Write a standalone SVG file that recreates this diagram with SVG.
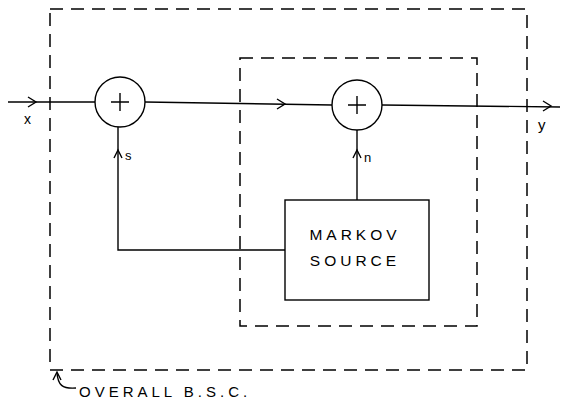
<svg xmlns="http://www.w3.org/2000/svg" width="568" height="406" viewBox="0 0 568 406">
<defs>
<style>
.ln{fill:none;stroke:#000;stroke-width:1.4}
.dash{fill:none;stroke:#000;stroke-width:1.5;stroke-dasharray:13,8}
.t{font-family:"Liberation Sans",Arial,sans-serif;fill:#000}
.ah{fill:none;stroke:#000;stroke-width:1.4}
</style>
</defs>
<rect width="568" height="406" fill="#fff"/>
<g id="overall-bsc">
<rect class="dash" x="50" y="9" width="477" height="361"/>
</g>
<g id="channel-box">
<rect class="dash" x="240" y="58" width="237" height="268"/>
</g>
<g id="adder1">
<circle class="ln" cx="120" cy="102" r="25"/>
<path class="ln" d="M111,102h18M120,93v18"/>
</g>
<g id="adder2">
<circle class="ln" cx="357" cy="105" r="25"/>
<path class="ln" d="M348,105h18M357,96v18"/>
</g>
<g id="markov-source">
<rect class="ln" x="285" y="200" width="144" height="100"/>
<text class="t" x="355" y="240" font-size="15.5" text-anchor="middle" letter-spacing="4">MARKOV</text>
<text class="t" x="355" y="266" font-size="15.5" text-anchor="middle" letter-spacing="4">SOURCE</text>
</g>
<g id="connectors">
<path class="ln" d="M8,102H95"/>
<path class="ah" d="M28,97l8,5l-8,5"/>
<path class="ln" d="M145,102L332,105"/>
<path class="ah" d="M277,99l8,5l-8,5"/>
<path class="ln" d="M382,105L560,107"/>
<path class="ah" d="M543,101l8,5l-8,5"/>
<path class="ln" d="M285,250H118V127"/>
<path class="ah" d="M114,158l4,-8l4,8"/>
<path class="ln" d="M357,200V130"/>
<path class="ah" d="M353,158l4,-8l4,8"/>
<path class="ln" d="M76,388C62,389 58,385 57,373"/>
<path class="ah" d="M53,380l4,-8l4,8"/>
</g>
<g id="labels">
<text class="t" x="24" y="124" font-size="14">x</text>
<text class="t" x="538" y="130" font-size="15">y</text>
<text class="t" x="125" y="160" font-size="13">s</text>
<text class="t" x="364" y="162" font-size="13">n</text>
<text class="t" x="79" y="397" font-size="15" letter-spacing="4">OVERALL B.S.C.</text>
</g>
</svg>
